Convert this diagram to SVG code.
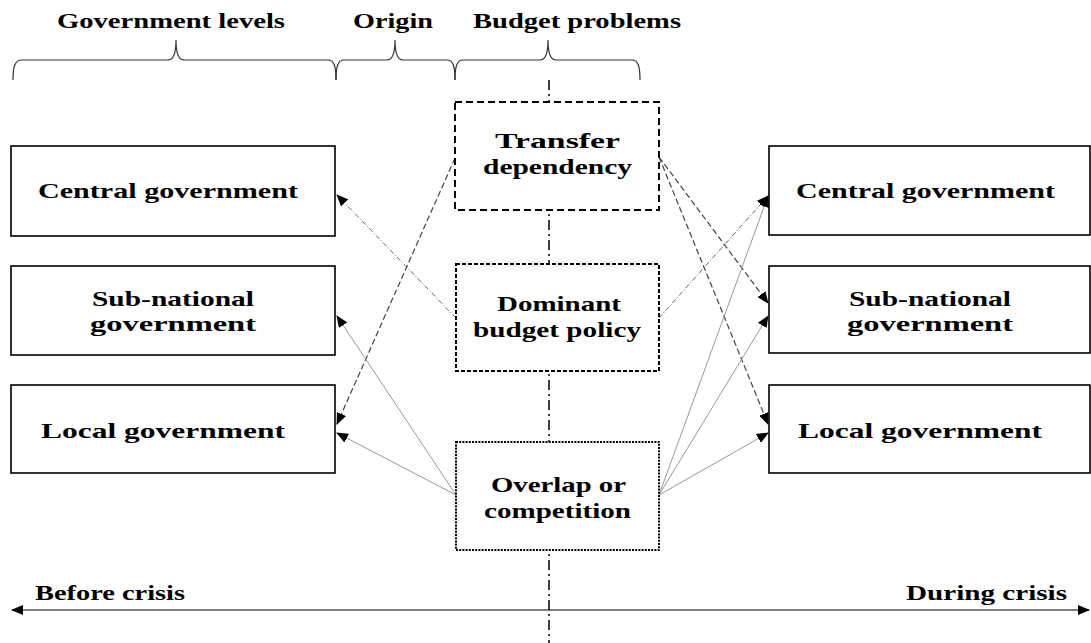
<svg xmlns="http://www.w3.org/2000/svg" width="1091" height="643" viewBox="0 0 1091 643">
<style>
text{font-family:"Liberation Serif","Times New Roman",serif;font-weight:bold;font-size:21px;fill:#000}
.box{fill:#fff;stroke:#000;stroke-width:1.6}
.tr{fill:#fff;stroke:#000;stroke-width:2;stroke-dasharray:7,4}
.dom{fill:#fff;stroke:#000;stroke-width:2;stroke-dasharray:4,2}
.ov{fill:#fff;stroke:#000;stroke-width:2;stroke-dasharray:2,1.2}
.brace{fill:none;stroke:#333;stroke-width:1.2}
.c-dash{fill:none;stroke:#444;stroke-width:1.2;stroke-dasharray:6,3}
.c-dd{fill:none;stroke:#666;stroke-width:1;stroke-dasharray:5,2,1,2}
.c-sol{fill:none;stroke:#999;stroke-width:1}
</style>
<defs>
<marker id="ah" markerWidth="12" markerHeight="10" refX="11" refY="5" orient="auto" markerUnits="userSpaceOnUse">
<path d="M0,0 L12,5 L0,10 z" fill="#000"/>
</marker>
<marker id="ahs" markerWidth="12" markerHeight="10" refX="1" refY="5" orient="auto" markerUnits="userSpaceOnUse">
<path d="M12,0 L0,5 L12,10 z" fill="#000"/>
</marker>
</defs>

<g id="headers">
<text x="57" y="28" textLength="228" lengthAdjust="spacingAndGlyphs">Government levels</text>
<text x="353" y="28" textLength="80" lengthAdjust="spacingAndGlyphs">Origin</text>
<text x="473" y="28" textLength="208" lengthAdjust="spacingAndGlyphs">Budget problems</text>
<path class="brace" d="M13,80 C13,66 15,60 22,60 L168,60 C174,60 176,52 176,40 C176,52 178,60 184,60 L328,60 C334,60 336,66 336,80"/>
<path class="brace" d="M336,80 C336,66 338,60 344,60 L387,60 C393,60 395,52 395,40 C395,52 397,60 403,60 L447,60 C453,60 455,66 455,80"/>
<path class="brace" d="M455,80 C455,66 457,60 463,60 L540,60 C546,60 548,52 548,40 C548,52 550,60 556,60 L632,60 C638,60 640,66 640,80"/>
</g>

<g id="axis">
<line x1="549" y1="80" x2="549" y2="643" stroke="#000" stroke-width="1.5" stroke-dasharray="10,4,2,4"/>
<line x1="12" y1="610" x2="1089" y2="610" stroke="#000" stroke-width="1.2" marker-start="url(#ahs)" marker-end="url(#ah)"/>
<text x="35" y="600" textLength="150" lengthAdjust="spacingAndGlyphs">Before crisis</text>
<text x="906" y="600" textLength="161" lengthAdjust="spacingAndGlyphs">During crisis</text>
</g>

<g id="connectors">
<line class="c-dd" x1="456" y1="318" x2="337" y2="195" marker-end="url(#ah)"/>
<line class="c-dash" x1="455" y1="158" x2="337" y2="424" marker-end="url(#ah)"/>
<line class="c-sol" x1="456" y1="495" x2="337" y2="316" marker-end="url(#ah)"/>
<line class="c-sol" x1="456" y1="495" x2="337" y2="433" marker-end="url(#ah)"/>
<line class="c-dash" x1="659" y1="157" x2="768" y2="303" marker-end="url(#ah)"/>
<line class="c-dash" x1="659" y1="157" x2="768" y2="424" marker-end="url(#ah)"/>
<line class="c-dd" x1="659" y1="318" x2="768" y2="196" marker-end="url(#ah)"/>
<line class="c-sol" x1="659" y1="495" x2="768" y2="196" marker-end="url(#ah)"/>
<line class="c-sol" x1="659" y1="495" x2="768" y2="316" marker-end="url(#ah)"/>
<line class="c-sol" x1="659" y1="495" x2="768" y2="433" marker-end="url(#ah)"/>
</g>

<g id="left-central">
<rect class="box" x="11" y="146" width="324" height="90"/>
<text x="38" y="198" textLength="260" lengthAdjust="spacingAndGlyphs">Central government</text>
</g>
<g id="left-subnational">
<rect class="box" x="11" y="266" width="324" height="89"/>
<text x="92" y="306" textLength="162" lengthAdjust="spacingAndGlyphs">Sub-national</text>
<text x="90" y="331" textLength="166" lengthAdjust="spacingAndGlyphs">government</text>
</g>
<g id="left-local">
<rect class="box" x="11" y="385" width="324" height="88"/>
<text x="41" y="438" textLength="244" lengthAdjust="spacingAndGlyphs">Local government</text>
</g>

<g id="transfer">
<rect class="tr" x="455" y="102" width="204" height="108"/>
<text x="495" y="148" textLength="125" lengthAdjust="spacingAndGlyphs">Transfer</text>
<text x="483" y="174" textLength="149" lengthAdjust="spacingAndGlyphs">dependency</text>
</g>
<g id="dominant">
<rect class="dom" x="456" y="264" width="203" height="107"/>
<text x="497" y="311" textLength="124" lengthAdjust="spacingAndGlyphs">Dominant</text>
<text x="473" y="337" textLength="168" lengthAdjust="spacingAndGlyphs">budget policy</text>
</g>
<g id="overlap">
<rect class="ov" x="456" y="442" width="203" height="108"/>
<text x="491" y="492" textLength="135" lengthAdjust="spacingAndGlyphs">Overlap or</text>
<text x="484" y="518" textLength="147" lengthAdjust="spacingAndGlyphs">competition</text>
</g>

<g id="right-central">
<rect class="box" x="769" y="146" width="321" height="89"/>
<text x="796" y="198" textLength="259" lengthAdjust="spacingAndGlyphs">Central government</text>
</g>
<g id="right-subnational">
<rect class="box" x="769" y="266" width="321" height="87"/>
<text x="849" y="306" textLength="162" lengthAdjust="spacingAndGlyphs">Sub-national</text>
<text x="847" y="331" textLength="166" lengthAdjust="spacingAndGlyphs">government</text>
</g>
<g id="right-local">
<rect class="box" x="769" y="385" width="321" height="88"/>
<text x="798" y="438" textLength="244" lengthAdjust="spacingAndGlyphs">Local government</text>
</g>
</svg>
